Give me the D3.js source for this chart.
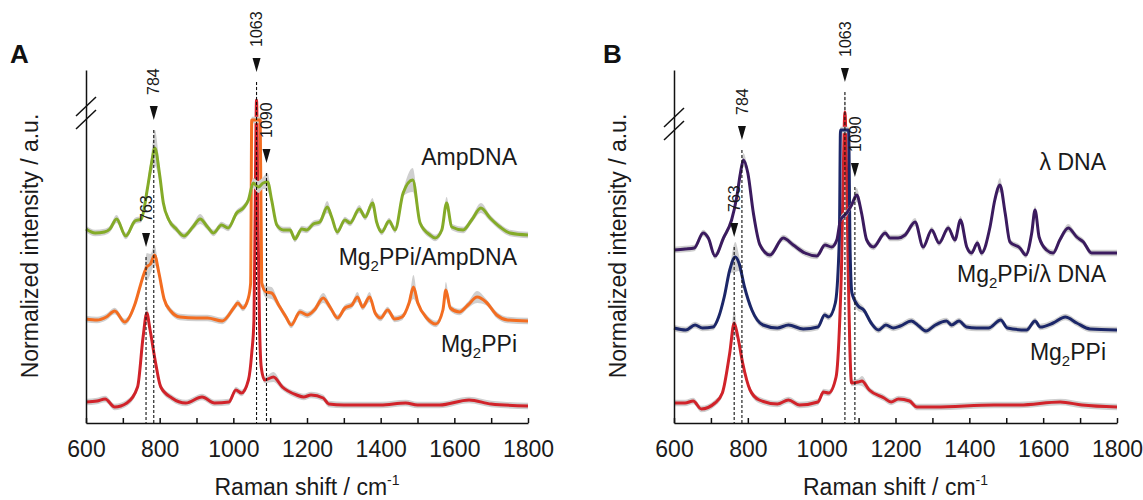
<!DOCTYPE html>
<html>
<head>
<meta charset="utf-8">
<script src="https://cdn.jsdelivr.net/npm/d3@7"></script>
<style>
  body { margin: 0; background: #fff; }
  svg { font-family: "Liberation Sans", Arial, sans-serif; }
</style>
</head>
<body>
<div id="chart"></div>
<script>
// x axis ticks and marked bands (cm-1)
const shiftTicks = d3.range(600, 1801, 100);
const peaks = [763, 784, 1063, 1090];

// spectra as plotted (stacked), [shift, intensity a.u., sd]
const mg2ppiA = [[600,21],[630,22],[652,24],[678,16],[711,20],[740,36],[755,86],[765,110,8],[774,93],[789,60],[803,36],[833,25],[871,20],[915,26],[949,20],[988,21],[1007,33],[1022,30],[1041,43],[1050,70],[1056,103],[1059,200],[1063,323,17],[1067,200],[1071,100],[1076,55],[1085,43],[1109,46,5],[1133,36],[1172,28],[1191,26],[1211,28],[1244,25],[1259,19],[1300,18],[1400,18],[1468,20],[1500,18],[1560,18],[1640,23],[1700,19],[1800,17]];

const mg2ppiAmp = [[600,104],[630,103],[655,106],[678,112],[705,101],[733,119],[748,138],[758,150],[765,156,14],[775,159,10],[786,168,10],[798,150],[812,124],[830,112],[855,106],[900,105],[930,105],[970,102],[1003,116],[1012,120],[1026,115],[1040,124],[1047,140],[1050,303],[1073,303],[1077,140],[1089,131,6],[1104,130,6],[1123,118],[1143,106],[1157,98],[1181,111],[1201,108],[1220,113],[1244,125,5],[1264,115],[1283,105],[1303,115],[1322,118],[1337,126,5],[1351,116],[1370,126,5],[1385,110],[1400,105],[1419,113],[1438,104],[1458,106],[1477,120],[1489,136,12],[1501,120],[1525,105],[1550,99],[1569,113],[1577,133,8],[1589,115],[1614,111],[1637,118],[1662,126,6],[1686,121],[1715,108],[1744,103],[1800,102]];

const ampDNA = [[600,194],[625,190],[650,191],[665,194],[683,204,4],[708,187],[733,202],[750,204],[767,235,6],[778,260,10],[787,275,18],[800,248,8],[810,220],[825,203],[845,194],[866,187],[890,196],[910,204,5],[930,196],[946,190],[968,198],[986,195],[1009,210],[1027,215],[1041,223],[1054,240,5],[1068,236,6],[1081,240,6],[1093,241,9],[1104,223],[1118,198],[1136,193],[1154,193],[1167,184],[1186,194],[1199,193],[1217,199],[1235,201],[1255,216,6],[1267,206],[1282,191],[1303,203],[1317,200],[1342,214,4],[1358,206],[1378,220,5],[1389,201],[1403,191],[1423,202],[1439,193],[1461,230],[1487,243,12],[1507,200],[1534,188],[1548,185],[1566,193],[1579,220,6],[1593,196],[1624,193],[1647,203],[1672,215,5],[1697,205],[1724,196],[1751,190],[1800,188]];

const mg2ppiB = [[600,20],[630,20],[652,22],[674,14],[711,20],[731,30],[751,70],[763,100,13],[773,86],[786,60],[806,33],[831,23],[880,19],[910,23],[940,18],[990,21],[1005,31],[1019,30],[1039,46],[1049,103],[1054,160],[1058,240],[1063,311,20],[1068,240],[1072,150],[1076,80],[1081,40],[1099,41],[1109,42,5],[1129,33],[1169,25],[1188,21],[1208,24],[1238,22],[1258,16],[1308,16],[1467,18],[1536,18],[1646,21],[1705,18],[1800,16]];

const mg2ppiLambda = [[600,95],[632,93],[657,98],[677,95],[706,96],[721,106],[736,126],[751,153],[766,166,15],[776,160,8],[791,136],[811,113],[841,98],[880,95],[910,98],[950,94],[990,96],[1008,108],[1019,106],[1037,120],[1048,186],[1051,293],[1073,293],[1077,173],[1082,130],[1099,117,5],[1114,113],[1134,100],[1154,93],[1174,98],[1194,95],[1213,97],[1243,102],[1263,97],[1283,92],[1308,98],[1338,102],[1352,98],[1372,102],[1392,96],[1419,95],[1452,95],[1485,103],[1503,95],[1555,93],[1578,102],[1592,96],[1627,100],[1660,106],[1691,100],[1727,94],[1800,93]];

const lambdaDNA = [[600,173],[630,174],[655,175],[679,190],[693,185],[711,167],[734,185],[756,203],[770,226],[780,250,5],[788,263,7],[800,250],[815,210],[833,178],[860,168],[896,185],[923,178],[955,170],[987,167],[1009,178],[1027,176],[1041,183],[1051,203],[1068,210],[1081,218],[1095,228,7],[1108,210],[1122,183],[1140,176],[1172,190],[1185,185],[1207,185],[1226,188],[1253,201,4],[1275,176],[1298,193],[1318,180],[1343,195],[1361,183],[1376,203,4],[1393,176],[1406,170],[1422,180],[1433,170],[1456,196],[1469,223],[1483,238,7],[1497,210],[1510,181],[1537,175],[1553,168],[1569,190],[1578,213,4],[1589,186],[1609,173],[1627,170],[1645,183],[1668,195,4],[1691,186],[1709,181],[1731,170],[1763,170],[1800,170]];

// where the arrowheads point (intensity a.u.), one per peak
const arrowTipsA = [176, 303, 351, 260];
const arrowTipsB = [186, 283, 341, 246];

const namesA = ["Mg2PPi", "Mg2PPi/AmpDNA", "AmpDNA"];
const namesB = ["Mg2PPi", "Mg2PPi/λ DNA", "λ DNA"];

const panels = [
    { letter: "A", left: 86, right: 528, letterX: 10,
      series: [mg2ppiA, mg2ppiAmp, ampDNA], names: namesA,
      colors: ["#d1232a", "#f36d21", "#84ab28"],
      nameY: [71, 158, 258], tips: arrowTipsA, breakAt: 310 },
    { letter: "B", left: 674, right: 1117, letterX: 603,
      series: [mg2ppiB, mg2ppiLambda, lambdaDNA], names: namesB,
      colors: ["#d1232a", "#1c2769", "#3b1b5f"],
      nameY: [63, 141, 253], tips: arrowTipsB, breakAt: 299 }
];

const width = 1143, height = 500;
const ink = "#1a1a1a";

let svg = d3.select("#chart")
    .append("svg")
    .attr("width", width)
    .attr("height", height);

let y = d3.scaleLinear()
    .domain([0, 353])
    .range([423, 70]);

function writeName(text, name) {
    if (name.startsWith("Mg2")) {
        text.append("tspan").text("Mg");
        text.append("tspan").text("2").attr("font-size", 15).attr("dy", 6);
        text.append("tspan").text(name.slice(3)).attr("dy", -6);
    } else {
        text.text(name);
    }
}

panels.forEach(p => {
    let x = d3.scaleLinear()
        .domain([600, 1800])
        .range([p.left, p.right]);

    let g = svg.append("g");

    const sd = d => d[2] || 3.2;
    let band = d3.area()
        .x(d => x(d[0]))
        .y0(d => y(d[1] - sd(d)))
        .y1(d => y(d[1] + sd(d)))
        .curve(d3.curveMonotoneX);
    let line = d3.line()
        .x(d => x(d[0]))
        .y(d => y(d[1]))
        .curve(d3.curveMonotoneX);

    // spectra, bottom one first
    p.series.forEach((s, i) => {
        g.append("path")
            .attr("d", band(s))
            .attr("fill", "#cfcfcf");
        g.append("path")
            .attr("d", line(s))
            .attr("fill", "none")
            .attr("stroke", p.colors[i])
            .attr("stroke-width", 3)
            .attr("stroke-linejoin", "round");
    });

    // dashed guides, arrowheads and rotated labels
    peaks.forEach((pk, i) => {
        const px = x(pk), tip = y(p.tips[i]);
        g.append("line")
            .attr("x1", px).attr("x2", px)
            .attr("y1", tip + 10).attr("y2", y(0))
            .attr("stroke", "#111")
            .attr("stroke-width", 1.1)
            .attr("stroke-dasharray", "3,2");
        g.append("path")
            .attr("d", `M${px - 4},${tip - 14}L${px + 4},${tip - 14}L${px},${tip}Z`)
            .attr("fill", "#111");
        g.append("text")
            .attr("transform", `translate(${px},${tip - 25}) rotate(-90)`)
            .attr("dy", "0.35em")
            .attr("font-size", 16)
            .attr("fill", ink)
            .text(pk);
    });

    // axes
    let xAxis = g.append("g")
        .attr("transform", `translate(0,${y(0)})`)
        .call(d3.axisBottom(x)
            .tickValues(shiftTicks)
            .tickSize(-5)
            .tickSizeOuter(0)
            .tickPadding(18)
            .tickFormat(d => d % 200 === 0 ? d : ""));
    xAxis.selectAll("path, line").attr("stroke", "#111").attr("stroke-width", 1.5);
    xAxis.selectAll("text").attr("font-size", 23).attr("fill", ink)
        .attr("font-family", "Liberation Sans, Arial, sans-serif");

    let yAxis = g.append("g")
        .attr("transform", `translate(${p.left},0)`)
        .call(d3.axisLeft(y).tickValues([]).tickSizeOuter(0));
    yAxis.select("path").attr("stroke", "#111").attr("stroke-width", 1.5);

    // axis break
    const yb = y(p.breakAt);
    [-6.5, 6.5].forEach(o => {
        g.append("line")
            .attr("x1", p.left - 10).attr("y1", yb + o + 9.5)
            .attr("x2", p.left + 10).attr("y2", yb + o - 9.5)
            .attr("stroke", "#111")
            .attr("stroke-width", 1.5);
    });

    // series names
    p.names.forEach((n, i) => {
        let t = g.append("text")
            .attr("x", p.right - 11)
            .attr("y", y(p.nameY[i]))
            .attr("text-anchor", "end")
            .attr("font-size", 23)
            .attr("fill", ink);
        writeName(t, n);
    });

    // axis titles
    let xt = g.append("text")
        .attr("x", (p.left + p.right) / 2)
        .attr("y", 495)
        .attr("text-anchor", "middle")
        .attr("font-size", 23)
        .attr("fill", ink);
    xt.append("tspan").text("Raman shift / cm");
    xt.append("tspan").text("-1").attr("font-size", 14).attr("dy", -10);

    g.append("text")
        .attr("transform", `translate(${p.left - 56},246) rotate(-90)`)
        .attr("dy", "0.35em")
        .attr("text-anchor", "middle")
        .attr("font-size", 23)
        .attr("fill", ink)
        .text("Normalized intensity / a.u.");

    g.append("text")
        .attr("x", p.letterX)
        .attr("y", 63)
        .attr("font-size", 26)
        .attr("font-weight", "bold")
        .attr("fill", "#111")
        .text(p.letter);
});
</script>
</body>
</html>
